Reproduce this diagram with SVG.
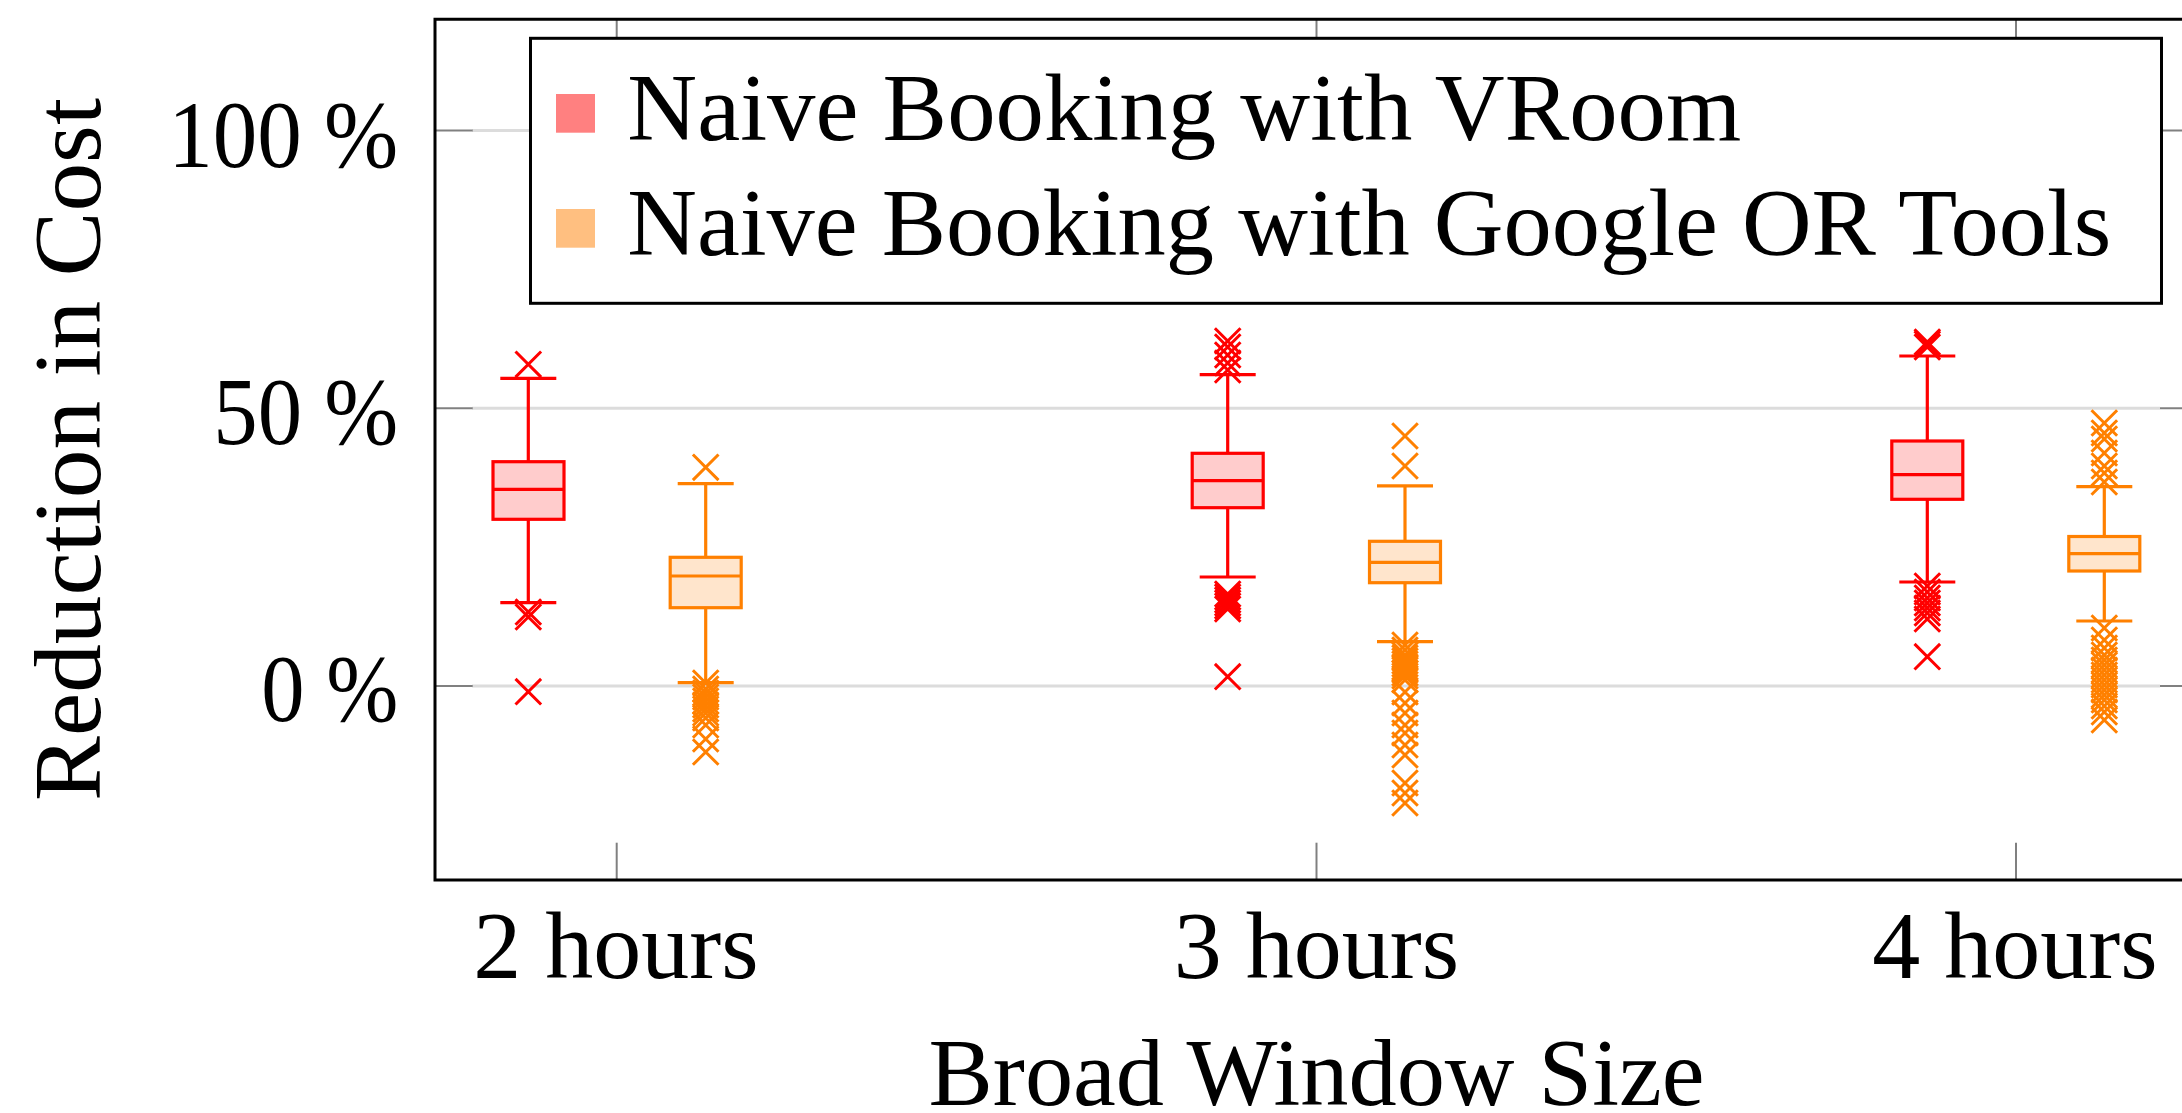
<svg xmlns="http://www.w3.org/2000/svg" xmlns:xlink="http://www.w3.org/1999/xlink" width="2182" height="1113" viewBox="0 0 2182 1113">
  <style>
    .txt{font-family:"Liberation Serif","Times New Roman",serif;font-size:96px;fill:#000}
    .grid{stroke:#dcdcdc;stroke-width:3;fill:none}
    .tick{stroke:#808080;stroke-width:2;fill:none}
    .frame{stroke:#000;stroke-width:3;fill:none}
    .red{stroke:#ff0000;stroke-width:3.2;fill:none}
    .red .box{fill:#ffcccc}
    .orange{stroke:#ff8000;stroke-width:3.2;fill:none}
    .orange .box{fill:#ffe5cc}
    .xr{stroke:#ff0000;stroke-width:3}
    .xo{stroke:#ff8000;stroke-width:3}
  </style>
  <defs>
    <path id="xm" d="M-12.8,-12.8L12.8,12.8M-12.8,12.8L12.8,-12.8" fill="none"/>
  </defs>
  <rect width="2182" height="1113" fill="#fff"/>

  <!-- grid and ticks -->
  <g id="grid">
    <line class="grid" x1="472" y1="130.5" x2="2160" y2="130.5"/>
    <line class="grid" x1="472" y1="408.3" x2="2160" y2="408.3"/>
    <line class="grid" x1="472" y1="686" x2="2160" y2="686"/>
    <line class="tick" x1="435" y1="130.5" x2="472.7" y2="130.5"/>
    <line class="tick" x1="435" y1="408.3" x2="472.7" y2="408.3"/>
    <line class="tick" x1="435" y1="686" x2="472.7" y2="686"/>
    <line class="tick" x1="2160" y1="130.5" x2="2197" y2="130.5"/>
    <line class="tick" x1="2160" y1="408.3" x2="2197" y2="408.3"/>
    <line class="tick" x1="2160" y1="686" x2="2197" y2="686"/>
    <line class="tick" x1="616.7" y1="842.7" x2="616.7" y2="880"/>
    <line class="tick" x1="1316.5" y1="842.7" x2="1316.5" y2="880"/>
    <line class="tick" x1="2016" y1="842.7" x2="2016" y2="880"/>
    <line class="tick" x1="616.7" y1="19.3" x2="616.7" y2="56.6"/>
    <line class="tick" x1="1316.5" y1="19.3" x2="1316.5" y2="56.6"/>
    <line class="tick" x1="2016" y1="19.3" x2="2016" y2="56.6"/>
  </g>

  <!-- box plots: 2 hours -->
  <g id="box-2h-vroom" class="red">
    <line x1="528.3" y1="378.3" x2="528.3" y2="461.7"/>
    <line x1="528.3" y1="519.3" x2="528.3" y2="602.7"/>
    <line x1="500.3" y1="378.3" x2="556.3" y2="378.3"/>
    <line x1="500.3" y1="602.7" x2="556.3" y2="602.7"/>
    <rect class="box" x="493" y="461.7" width="71" height="57.6"/>
    <line x1="493" y1="489.3" x2="564" y2="489.3"/>
  </g>
  <g id="out-2h-vroom" class="xr">
    <use xlink:href="#xm" x="528.3" y="364.3"/>
    <use xlink:href="#xm" x="528.3" y="612"/>
    <use xlink:href="#xm" x="528.3" y="617"/>
    <use xlink:href="#xm" x="528.3" y="691.7"/>
  </g>
  <g id="box-2h-ortools" class="orange">
    <line x1="705.7" y1="483.7" x2="705.7" y2="557.3"/>
    <line x1="705.7" y1="607.7" x2="705.7" y2="682.7"/>
    <line x1="677.7" y1="483.7" x2="733.7" y2="483.7"/>
    <line x1="677.7" y1="682.7" x2="733.7" y2="682.7"/>
    <rect class="box" x="670.2" y="557.3" width="71" height="50.4"/>
    <line x1="670.2" y1="576" x2="741.2" y2="576"/>
  </g>
  <g id="out-2h-ortools" class="xo">
    <use xlink:href="#xm" x="705.7" y="467.3"/>
    <use xlink:href="#xm" x="705.7" y="683"/>
    <use xlink:href="#xm" x="705.7" y="689"/>
    <use xlink:href="#xm" x="705.7" y="693"/>
    <use xlink:href="#xm" x="705.7" y="697"/>
    <use xlink:href="#xm" x="705.7" y="701"/>
    <use xlink:href="#xm" x="705.7" y="705"/>
    <use xlink:href="#xm" x="705.7" y="709"/>
    <use xlink:href="#xm" x="705.7" y="713"/>
    <use xlink:href="#xm" x="705.7" y="718"/>
    <use xlink:href="#xm" x="705.7" y="725"/>
    <use xlink:href="#xm" x="705.7" y="739"/>
    <use xlink:href="#xm" x="705.7" y="752"/>
  </g>

  <!-- box plots: 3 hours -->
  <g id="box-3h-vroom" class="red">
    <line x1="1227.7" y1="374.7" x2="1227.7" y2="453.3"/>
    <line x1="1227.7" y1="507.7" x2="1227.7" y2="577"/>
    <line x1="1199.7" y1="374.7" x2="1255.7" y2="374.7"/>
    <line x1="1199.7" y1="577" x2="1255.7" y2="577"/>
    <rect class="box" x="1192.2" y="453.3" width="71" height="54.4"/>
    <line x1="1192.2" y1="480.7" x2="1263.2" y2="480.7"/>
  </g>
  <g id="out-3h-vroom" class="xr">
    <use xlink:href="#xm" x="1227.7" y="341"/>
    <use xlink:href="#xm" x="1227.7" y="347"/>
    <use xlink:href="#xm" x="1227.7" y="355"/>
    <use xlink:href="#xm" x="1227.7" y="363"/>
    <use xlink:href="#xm" x="1227.7" y="370"/>
    <use xlink:href="#xm" x="1227.7" y="594"/>
    <use xlink:href="#xm" x="1227.7" y="597"/>
    <use xlink:href="#xm" x="1227.7" y="600"/>
    <use xlink:href="#xm" x="1227.7" y="603"/>
    <use xlink:href="#xm" x="1227.7" y="606"/>
    <use xlink:href="#xm" x="1227.7" y="609"/>
    <use xlink:href="#xm" x="1227.7" y="676.7"/>
  </g>
  <g id="box-3h-ortools" class="orange">
    <line x1="1405" y1="485.8" x2="1405" y2="541.3"/>
    <line x1="1405" y1="582.7" x2="1405" y2="641.7"/>
    <line x1="1377" y1="485.8" x2="1433" y2="485.8"/>
    <line x1="1377" y1="641.7" x2="1433" y2="641.7"/>
    <rect class="box" x="1369.5" y="541.3" width="71" height="41.4"/>
    <line x1="1369.5" y1="562.3" x2="1440.5" y2="562.3"/>
  </g>
  <g id="out-3h-ortools" class="xo">
    <use xlink:href="#xm" x="1405" y="436"/>
    <use xlink:href="#xm" x="1405" y="466"/>
    <use xlink:href="#xm" x="1405" y="645"/>
    <use xlink:href="#xm" x="1405" y="650"/>
    <use xlink:href="#xm" x="1405" y="655"/>
    <use xlink:href="#xm" x="1405" y="658"/>
    <use xlink:href="#xm" x="1405" y="661"/>
    <use xlink:href="#xm" x="1405" y="664"/>
    <use xlink:href="#xm" x="1405" y="667"/>
    <use xlink:href="#xm" x="1405" y="670"/>
    <use xlink:href="#xm" x="1405" y="673"/>
    <use xlink:href="#xm" x="1405" y="676"/>
    <use xlink:href="#xm" x="1405" y="680"/>
    <use xlink:href="#xm" x="1405" y="692"/>
    <use xlink:href="#xm" x="1405" y="703"/>
    <use xlink:href="#xm" x="1405" y="713"/>
    <use xlink:href="#xm" x="1405" y="725"/>
    <use xlink:href="#xm" x="1405" y="733"/>
    <use xlink:href="#xm" x="1405" y="745"/>
    <use xlink:href="#xm" x="1405" y="755"/>
    <use xlink:href="#xm" x="1405" y="783"/>
    <use xlink:href="#xm" x="1405" y="793"/>
    <use xlink:href="#xm" x="1405" y="803"/>
  </g>

  <!-- box plots: 4 hours -->
  <g id="box-4h-vroom" class="red">
    <line x1="1927.3" y1="356" x2="1927.3" y2="441"/>
    <line x1="1927.3" y1="499.3" x2="1927.3" y2="582"/>
    <line x1="1899.3" y1="356" x2="1955.3" y2="356"/>
    <line x1="1899.3" y1="582" x2="1955.3" y2="582"/>
    <rect class="box" x="1891.8" y="441" width="71" height="58.3"/>
    <line x1="1891.8" y1="474.7" x2="1962.8" y2="474.7"/>
  </g>
  <g id="out-4h-vroom" class="xr">
    <use xlink:href="#xm" x="1927.3" y="342"/>
    <use xlink:href="#xm" x="1927.3" y="344"/>
    <use xlink:href="#xm" x="1927.3" y="347"/>
    <use xlink:href="#xm" x="1927.3" y="586"/>
    <use xlink:href="#xm" x="1927.3" y="592"/>
    <use xlink:href="#xm" x="1927.3" y="598"/>
    <use xlink:href="#xm" x="1927.3" y="603"/>
    <use xlink:href="#xm" x="1927.3" y="608"/>
    <use xlink:href="#xm" x="1927.3" y="613"/>
    <use xlink:href="#xm" x="1927.3" y="619"/>
    <use xlink:href="#xm" x="1927.3" y="656.7"/>
  </g>
  <g id="box-4h-ortools" class="orange">
    <line x1="2104.3" y1="486.7" x2="2104.3" y2="536.5"/>
    <line x1="2104.3" y1="571" x2="2104.3" y2="621"/>
    <line x1="2076.3" y1="486.7" x2="2132.3" y2="486.7"/>
    <line x1="2076.3" y1="621" x2="2132.3" y2="621"/>
    <rect class="box" x="2068.8" y="536.5" width="71" height="34.5"/>
    <line x1="2068.8" y1="553.7" x2="2139.8" y2="553.7"/>
  </g>
  <g id="out-4h-ortools" class="xo">
    <use xlink:href="#xm" x="2104.3" y="423"/>
    <use xlink:href="#xm" x="2104.3" y="433"/>
    <use xlink:href="#xm" x="2104.3" y="439"/>
    <use xlink:href="#xm" x="2104.3" y="453"/>
    <use xlink:href="#xm" x="2104.3" y="466"/>
    <use xlink:href="#xm" x="2104.3" y="473"/>
    <use xlink:href="#xm" x="2104.3" y="482"/>
    <use xlink:href="#xm" x="2104.3" y="628"/>
    <use xlink:href="#xm" x="2104.3" y="640"/>
    <use xlink:href="#xm" x="2104.3" y="648"/>
    <use xlink:href="#xm" x="2104.3" y="655"/>
    <use xlink:href="#xm" x="2104.3" y="660"/>
    <use xlink:href="#xm" x="2104.3" y="665"/>
    <use xlink:href="#xm" x="2104.3" y="670"/>
    <use xlink:href="#xm" x="2104.3" y="675"/>
    <use xlink:href="#xm" x="2104.3" y="680"/>
    <use xlink:href="#xm" x="2104.3" y="685"/>
    <use xlink:href="#xm" x="2104.3" y="690"/>
    <use xlink:href="#xm" x="2104.3" y="695"/>
    <use xlink:href="#xm" x="2104.3" y="700"/>
    <use xlink:href="#xm" x="2104.3" y="706"/>
    <use xlink:href="#xm" x="2104.3" y="712"/>
    <use xlink:href="#xm" x="2104.3" y="720"/>
  </g>

  <!-- axis frame -->
  <g id="axes">
    <path class="frame" d="M2197,19.3H435V880H2197"/>
  </g>

  <!-- legend -->
  <g id="legend">
    <rect x="530.5" y="38.3" width="1631" height="265" fill="#fff" stroke="#000" stroke-width="3"/>
    <rect x="556" y="94" width="39" height="38.7" fill="#ff8080"/>
    <rect x="556" y="209" width="39" height="38.7" fill="#ffbf80"/>
    <text class="txt" x="627.3" y="140" textLength="1114" lengthAdjust="spacingAndGlyphs">Naive Booking with VRoom</text>
    <text class="txt" x="627.3" y="255" textLength="1484" lengthAdjust="spacingAndGlyphs">Naive Booking with Google OR Tools</text>
  </g>

  <!-- tick labels -->
  <g id="ylabels">
    <text class="txt" x="398.3" y="166.5" text-anchor="end" textLength="230" lengthAdjust="spacingAndGlyphs">100 %</text>
    <text class="txt" x="398.3" y="444" text-anchor="end" textLength="185" lengthAdjust="spacingAndGlyphs">50 %</text>
    <text class="txt" x="398.3" y="721" text-anchor="end" textLength="137" lengthAdjust="spacingAndGlyphs">0 %</text>
  </g>
  <g id="xlabels">
    <text class="txt" x="616" y="978" text-anchor="middle">2 hours</text>
    <text class="txt" x="1316.5" y="978" text-anchor="middle">3 hours</text>
    <text class="txt" x="2015" y="978" text-anchor="middle">4 hours</text>
  </g>

  <!-- axis titles -->
  <g id="titles">
    <text class="txt" x="1316.5" y="1105" text-anchor="middle" textLength="776" lengthAdjust="spacingAndGlyphs">Broad Window Size</text>
    <text class="txt" transform="translate(100,449.5) rotate(-90)" x="0" y="0" text-anchor="middle" textLength="703" lengthAdjust="spacingAndGlyphs">Reduction in Cost</text>
  </g>
</svg>
